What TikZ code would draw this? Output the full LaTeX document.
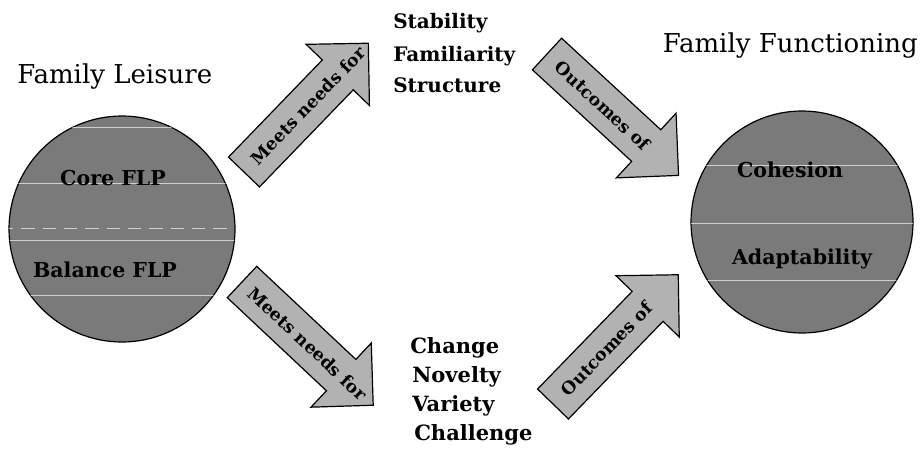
\documentclass[tikz,border=0pt]{standalone}
\usepackage{fontspec}
\setmainfont{DejaVu Serif}
\usetikzlibrary{calc}
\definecolor{circfill}{gray}{0.48}
\definecolor{arrfill}{gray}{0.70}
\newcommand\blockarrow[3]{% tail centre, angle, length
\begin{scope}[shift={#1}, rotate=#2]
\draw[arrowbox] (0,-21.5) -- ({#3-44},-21.5) -- ({#3-44},-44) -- (#3,0)
  -- ({#3-44},44) -- ({#3-44},21.5) -- (0,21.5) -- cycle;
\end{scope}}
\begin{document}
\begin{tikzpicture}[x=0.75pt,y=-0.75pt,
  arrowbox/.style={draw=black, line width=0.9pt, fill=arrfill, line join=miter},
  circ/.style={draw=black, line width=0.9pt, fill=circfill},
  stripe/.style={white, opacity=0.65, line width=0.6pt},
  title/.style={font=\fontsize{19.5}{22}\selectfont, inner sep=0pt},
  listtxt/.style={font=\fontsize{15}{18}\selectfont\bfseries, inner sep=0pt},
  listtxtb/.style={font=\fontsize{15.75}{18}\selectfont\bfseries, inner sep=0pt},
  circtxt/.style={font=\fontsize{15.4}{18}\selectfont\bfseries, inner sep=0pt},
  arrtxt/.style={font=\fontsize{13}{15}\selectfont\bfseries, inner sep=0pt, transform shape}]
\useasboundingbox (0,0) rectangle (921,454);

% circles
\node[circ, circle, minimum size=169.5pt, inner sep=0pt] (left) at (122,229) {};
\node[circ, circle, minimum size=166.5pt, inner sep=0pt] (right) at (802,222) {};
\begin{scope}
\clip (122,229) circle[radius=113];
\draw[stripe] (0,127) -- (240,127);
\draw[stripe] (0,183) -- (240,183);
\draw[stripe, dash pattern=on 10pt off 6pt] (0,228) -- (240,228);
\draw[stripe] (0,240) -- (240,240);
\draw[stripe] (0,295) -- (240,295);
\end{scope}
\begin{scope}
\clip (802,222) circle[radius=111];
\draw[stripe] (680,165) -- (921,165);
\draw[stripe] (680,223) -- (921,223);
\draw[stripe] (680,280) -- (921,280);
\end{scope}
\node[circtxt, anchor=base] (core) at (113,185) {Core FLP};
\node[circtxt, anchor=base] (balance) at (105,277) {Balance FLP};
\node[circtxt, anchor=base] (cohesion) at (790,177) {Cohesion};
\node[circtxt, anchor=base] (adapt) at (802,264) {Adaptability};

% titles
\node[title, anchor=base west] (tleft) at (17,83) {Family Leisure};
\node[title, anchor=base east] (tright) at (918,52) {Family Functioning};

% lists
\node[listtxt, anchor=base west] (s1) at (393,28) {Stability};
\node[listtxt, anchor=base west] (s2) at (393,61) {Familiarity};
\node[listtxt, anchor=base west] (s3) at (393,92) {Structure};
\node[listtxtb, anchor=base west] (c1) at (410,353) {Change};
\node[listtxtb, anchor=base west] (c2) at (412,382) {Novelty};
\node[listtxtb, anchor=base west] (c3) at (412,411) {Variety};
\node[listtxtb, anchor=base west] (c4) at (414,440) {Challenge};

% arrows
\blockarrow{(244,172)}{46}{179}
\blockarrow{(547,54)}{-42.7}{179}
\blockarrow{(242,282)}{-43.2}{180}
\blockarrow{(553,404)}{45.9}{180}
\begin{scope}[shift={(244,172)}, rotate=46]
\node[arrtxt] (a1) at (92,0) {Meets needs for};
\end{scope}
\begin{scope}[shift={(547,54)}, rotate=-42.7]
\node[arrtxt] (a2) at (76,0) {Outcomes of};
\end{scope}
\begin{scope}[shift={(242,282)}, rotate=-43.2]
\node[arrtxt] (a3) at (90,0) {Meets needs for};
\end{scope}
\begin{scope}[shift={(553,404)}, rotate=45.9]
\node[arrtxt] (a4) at (77,0) {Outcomes of};
\end{scope}
\end{tikzpicture}
\end{document}
